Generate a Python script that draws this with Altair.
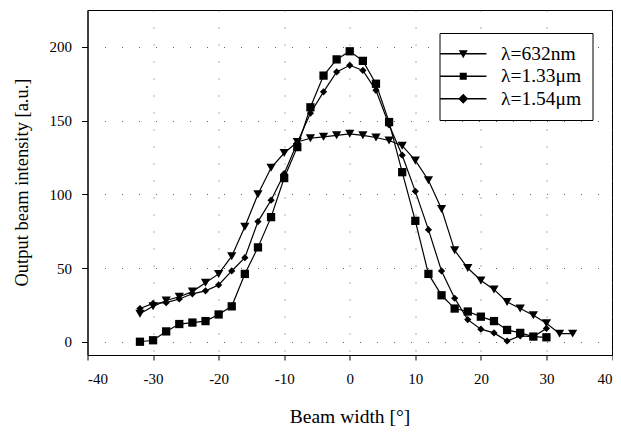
import altair as alt
import pandas as pd

# ---- data ----
labels = ["λ=632nm", "λ=1.33μm", "λ=1.54μm"]

x_632 = list(range(-32, 36, 2))
v_632 = [19, 24, 28, 30.5, 34, 40, 46, 58, 78, 100, 118, 128, 135.5, 138, 139, 140,
         141, 140, 138.5, 136.5, 133, 123, 109.5, 90, 62, 50, 41.5, 35.5, 27, 22.5,
         18, 12.5, 5.5, 5.5]

x_133 = list(range(-32, 32, 2))
v_133 = [0, 1, 7, 12, 13, 14, 18.5, 24, 46, 64, 84.5, 111, 132, 159, 180.5, 191.5,
         197, 190.5, 175, 149, 115, 82, 46, 31.5, 22.5, 20.5, 17, 14, 8, 6, 3.5, 3]

x_154 = list(range(-32, 32, 2))
v_154 = [22.5, 26, 26.5, 29, 32.5, 34.5, 38.5, 48, 57, 81.5, 96, 114, 135, 155, 169.5,
         183, 187.5, 184, 170.5, 147, 126.5, 102, 76, 48, 29.5, 15, 8.5, 6, 0.5, 4,
         3.5, 9]

x_ticks = [-40, -30, -20, -10, 0, 10, 20, 30, 40]
y_ticks = [0, 50, 100, 150, 200]

rows = []
for lab, xs, vs in zip(labels, [x_632, x_133, x_154], [v_632, v_133, v_154]):
    for xv, yv in zip(xs, vs):
        rows.append({"series": lab, "x": xv, "y": yv})
df = pd.DataFrame(rows)

plot_shapes = ["triangle-down", "square", "diamond"]
# legend symbols: a thin bar (the line) plus the marker, in one filled path
legend_shapes = [
    "M-2.9,-0.08H2.9V0.08H-2.9Z M-0.56,-0.45L0.56,-0.45L0,0.55Z",
    "M-2.9,-0.08H2.9V0.08H-2.9Z M-0.44,-0.44H0.44V0.44H-0.44Z",
    "M-2.9,-0.08H2.9V0.08H-2.9Z M0,-0.62L0.62,0L0,0.62L-0.62,0Z",
]

FONT = "Liberation Serif"

xenc = alt.X("x:Q", scale=alt.Scale(domain=[-40, 40], nice=False),
             axis=alt.Axis(values=x_ticks, title="Beam width [°]",
                           titleX=262, titleY=61, titleBaseline="middle",
                           titleFontSize=19.5,
                           tickSize=5, labelPadding=11,
                           labelExpr="'' + datum.value"))
yenc = alt.Y("y:Q", scale=alt.Scale(domain=[-9, 225], nice=False, zero=False),
             axis=alt.Axis(values=y_ticks, title="Output beam intensity [a.u.]",
                           titleX=-66, titleY=172, titleBaseline="middle",
                           titleFontSize=18.5,
                           tickSize=6, labelPadding=10,
                           labelExpr="'' + datum.value"))

base = alt.Chart(df).encode(x=xenc, y=yenc)

lines = base.mark_line(color="black", strokeWidth=1.2).encode(detail="series:N")

points = base.mark_point(filled=True, color="black", opacity=1).encode(
    shape=alt.Shape("series:N", sort=labels,
                    scale=alt.Scale(domain=labels, range=plot_shapes), legend=None),
    size=alt.Size("series:N", sort=labels,
                  scale=alt.Scale(domain=labels, range=[85, 52, 88]), legend=None),
)

legend_layer = base.mark_point(filled=True, color="black", opacity=0).encode(
    shape=alt.Shape("series:N", sort=labels,
                    scale=alt.Scale(domain=labels, range=legend_shapes),
                    legend=alt.Legend(title=None, orient="none", legendX=352,
                                      legendY=23, symbolSize=256, symbolOpacity=1,
                                      symbolFillColor="black", symbolStrokeWidth=0,
                                      labelFont=FONT, labelFontSize=19.5,
                                      labelOffset=28,
                                      symbolOffset=3, rowPadding=1.5, padding=11,
                                      strokeColor="black", fillColor="white",
                                      labelLimit=250)),
)

chart = (
    alt.layer(lines, points, legend_layer)
    .resolve_scale(shape="independent", size="independent")
    .properties(width=524.5, height=345, background="white",
                autosize=alt.AutoSizeParams(type="none"),
                padding={"left": 79.5, "top": 2, "right": 1, "bottom": 71})
    .configure_view(stroke="black", strokeWidth=1)
    .configure_axis(domainColor="black", tickColor="black", labelColor="black",
                    titleColor="black", labelFont=FONT, titleFont=FONT,
                    labelFontSize=15, titleFontWeight="normal",
                    grid=True, gridColor="#666", gridDash=[1, 16], gridWidth=1,
                    domainWidth=1)
    .configure_legend(labelFont=FONT, labelFontSize=19.5, labelColor="black")
)

chart.save("out.html", embed_options={"renderer": "svg", "actions": False})
